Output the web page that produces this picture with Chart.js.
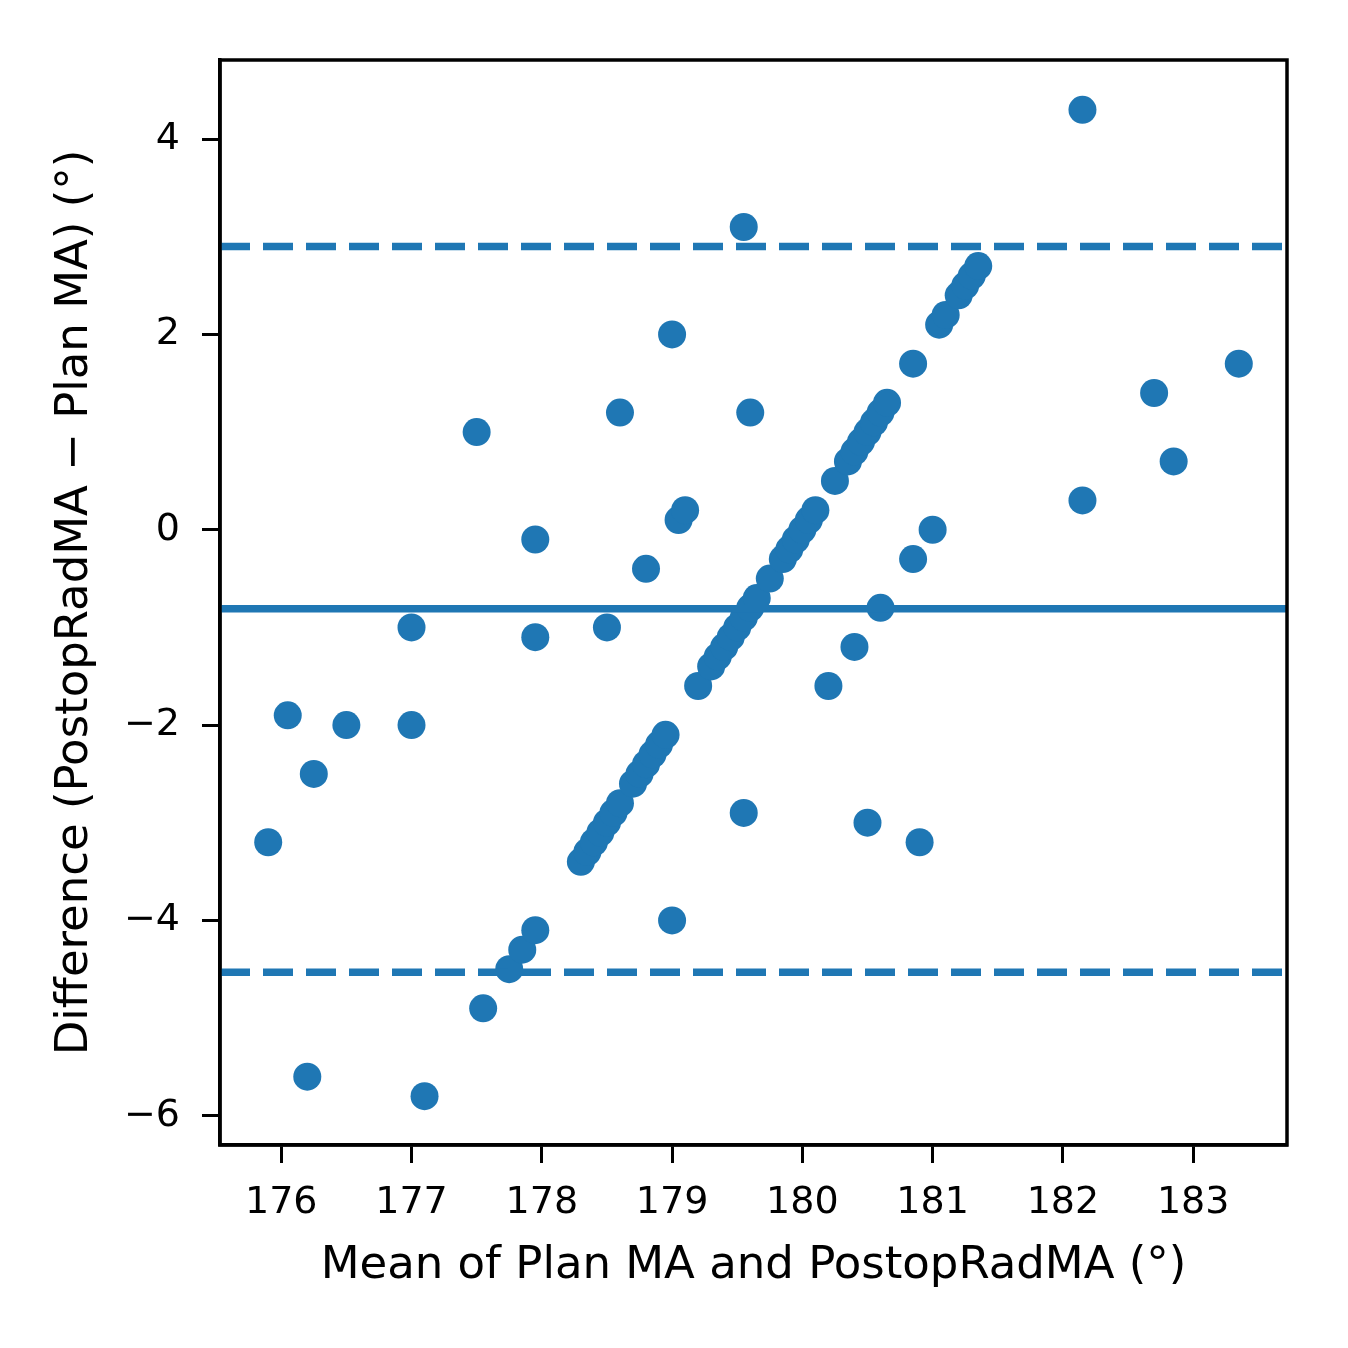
<!DOCTYPE html>
<html>
<head>
<meta charset="utf-8">
<script src="https://cdn.jsdelivr.net/npm/chart.js@4.4.1/dist/chart.umd.min.js"></script>
<style>
  html, body { margin: 0; padding: 0; background: #fff; }
  canvas { display: block; }
</style>
</head>
<body>
<canvas id="grafico" width="1348" height="1348"></canvas>
<script>
// Bland-Altman: mean vs difference
const means = [
    175.90, 176.05, 176.20, 176.25, 176.50, 177.00, 177.00, 177.10, 177.50, 177.55,
    177.75, 177.85, 177.95, 177.95, 177.95, 178.50, 178.60, 178.80, 179.00, 179.00,
    179.05, 179.10, 179.55, 179.55, 179.60, 180.20, 180.40, 180.50, 180.60, 180.85,
    180.90, 181.00, 182.15, 182.15, 182.70, 182.85, 183.35,
    178.30, 178.35, 178.40, 178.45, 178.50, 178.55, 178.60, 178.70, 178.75,
    178.80, 178.85, 178.90, 178.95, 179.20, 179.30, 179.35, 179.40, 179.45, 179.50,
    179.55, 179.60, 179.65, 179.75, 179.85, 179.90, 179.95, 180.00,
    180.05, 180.10, 180.25, 180.35, 180.40, 180.45, 180.50, 180.55, 180.60, 180.65,
    180.85, 181.05, 181.10, 181.20, 181.25, 181.30, 181.35
];
const diffs = [
    -3.2, -1.9, -5.6, -2.5, -2.0, -1.0, -2.0, -5.8, 1.0, -4.9,
    -4.5, -4.3, -4.1, -0.1, -1.1, -1.0, 1.2, -0.4, 2.0, -4.0,
    0.1, 0.2, 3.1, -2.9, 1.2, -1.6, -1.2, -3.0, -0.8, -0.3,
    -3.2, 0.0, 4.3, 0.3, 1.4, 0.7, 1.7,
    -3.4, -3.3, -3.2, -3.1, -3.0, -2.9, -2.8, -2.6, -2.5,
    -2.4, -2.3, -2.2, -2.1, -1.6, -1.4, -1.3, -1.2, -1.1, -1.0,
    -0.9, -0.8, -0.7, -0.5, -0.3, -0.2, -0.1, 0.0,
    0.1, 0.2, 0.5, 0.7, 0.8, 0.9, 1.0, 1.1, 1.2, 1.3,
    1.7, 2.1, 2.2, 2.4, 2.5, 2.6, 2.7
];

// mean difference and limits of agreement
const meanDiff = -0.81;
const loaUpper = 2.90;
const loaLower = -4.53;

// axis limits and ticks
const xLimits = [175.53, 183.72];
const yLimits = [-6.30, 4.81];
const xTicks = [176, 177, 178, 179, 180, 181, 182, 183];
const yTicks = [-6, -4, -2, 0, 2, 4];

const blue = '#1f77b4';
const fonte = 'DejaVu Sans';

const points = means.map((m, i) => ({ x: m, y: diffs[i] }));

function hLine(v) {
    return [{ x: xLimits[0], y: v }, { x: xLimits[1], y: v }];
}

// moldura completa em volta da área do gráfico
const frame = {
    id: 'frame',
    afterDraw(chart) {
        const a = chart.chartArea;
        const ctx = chart.ctx;
        ctx.save();
        ctx.strokeStyle = '#000';
        ctx.lineWidth = 3.5;
        ctx.strokeRect(a.left, a.top, a.right - a.left, a.bottom - a.top);
        ctx.restore();
    }
};

const ctx = document.getElementById('grafico').getContext('2d');

new Chart(ctx, {
    type: 'scatter',
    data: {
        datasets: [
            {
                type: 'line', data: hLine(loaUpper), borderColor: blue, borderWidth: 7.5,
                borderDash: [30, 13], pointRadius: 0, order: 0
            },
            {
                type: 'line', data: hLine(meanDiff), borderColor: blue, borderWidth: 7.5,
                pointRadius: 0, order: 0
            },
            {
                type: 'line', data: hLine(loaLower), borderColor: blue, borderWidth: 7.5,
                borderDash: [30, 13], pointRadius: 0, order: 0
            },
            {
                data: points, backgroundColor: blue, borderWidth: 0,
                pointRadius: 14, pointHoverRadius: 14, order: 1
            }
        ]
    },
    options: {
        responsive: false,
        animation: false,
        devicePixelRatio: 1,
        layout: { padding: { top: 60, right: 61, bottom: 0, left: 0 } },
        plugins: { legend: { display: false }, tooltip: { enabled: false } },
        scales: {
            x: {
                type: 'linear',
                min: xLimits[0],
                max: xLimits[1],
                afterFit(scale) { scale.height = 203; },
                afterBuildTicks(scale) { scale.ticks = xTicks.map(v => ({ value: v })); },
                grid: { drawOnChartArea: false, drawTicks: true, tickLength: 18, tickWidth: 3, tickColor: '#000' },
                border: { display: true, color: '#000', width: 3.5 },
                ticks: { color: '#000', padding: 17, maxRotation: 0, font: { family: fonte, size: 38 } },
                title: {
                    display: true,
                    text: 'Mean of Plan MA and PostopRadMA (°)',
                    color: '#000',
                    font: { family: fonte, size: 45 },
                    padding: { top: 0, bottom: 55 }
                }
            },
            y: {
                type: 'linear',
                min: yLimits[0],
                max: yLimits[1],
                afterFit(scale) { scale.width = 220; },
                afterBuildTicks(scale) { scale.ticks = yTicks.map(v => ({ value: v })); },
                grid: { drawOnChartArea: false, drawTicks: true, tickLength: 18, tickWidth: 3, tickColor: '#000' },
                border: { display: true, color: '#000', width: 3.5 },
                ticks: {
                    color: '#000', padding: 22, font: { family: fonte, size: 38 },
                    callback: v => (v < 0 ? '\u2212' + Math.abs(v) : String(v))
                },
                title: {
                    display: true,
                    text: 'Difference (PostopRadMA \u2212 Plan MA) (°)',
                    color: '#000',
                    font: { family: fonte, size: 45 },
                    padding: { top: 48, bottom: 0 }
                }
            }
        }
    },
    plugins: [frame]
});
</script>
</body>
</html>
